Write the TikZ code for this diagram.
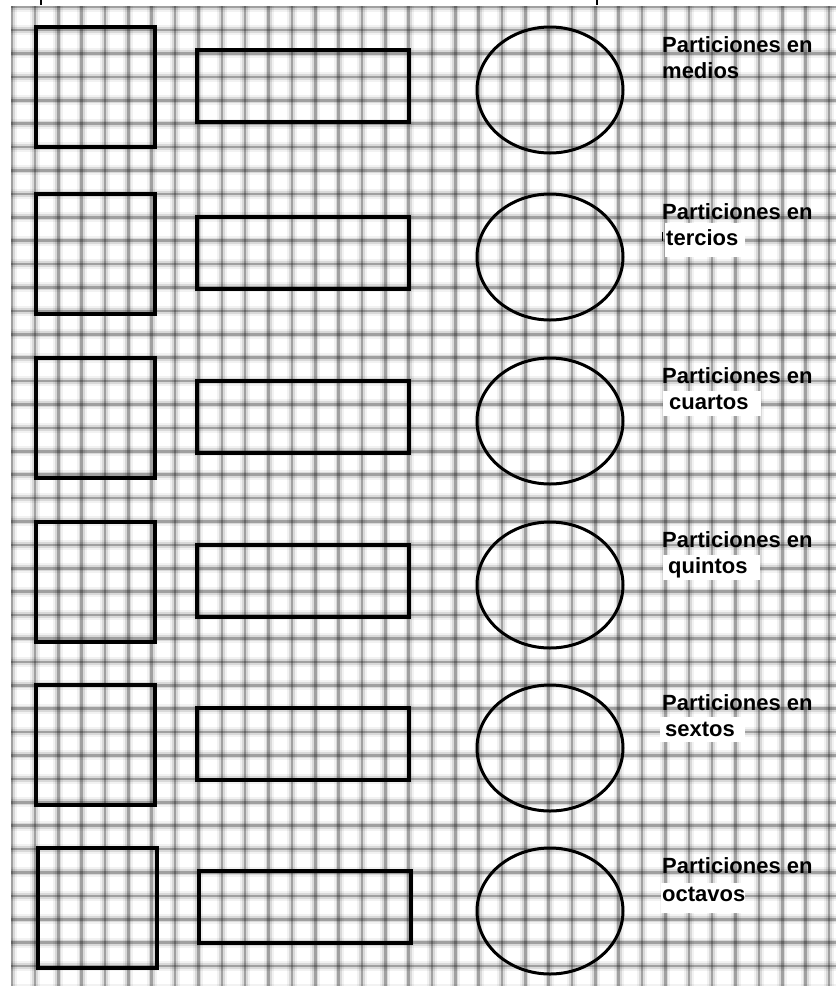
\documentclass[tikz,border=0pt]{standalone}
\usepackage{fontspec}
\setmainfont{Liberation Sans}
\usetikzlibrary{positioning}

\begin{document}
\begin{tikzpicture}[x=1pt,y=-1pt]
  \tikzstyle{gridhaze}=[line width=10pt,black,opacity=0.05]
  \tikzstyle{gridsoft}=[line width=6pt,black,opacity=0.10]
  \tikzstyle{gridline}=[line width=2.6pt,black,opacity=0.26]
  \tikzstyle{boxline}=[line width=4pt,black]
  \tikzstyle{oval}=[line width=3pt,black]
  \tikzstyle{rowtext}=[anchor=base west,inner sep=0pt,font=\fontsize{22}{26}\selectfont\bfseries]
  \tikzstyle{whitepatch}=[fill=white]

  % PAPER
  \useasboundingbox (0,0) rectangle (836,986);
  \fill[white] (0,0) rectangle (836,986);
  \begin{scope}
    \clip (11,6) rectangle (836,986);
    \foreach \k in {-1,...,35} {
      \draw[gridhaze] ({35+23.35*\k},0) -- ({35+23.35*\k},986);
      \draw[gridsoft] ({35+23.35*\k},0) -- ({35+23.35*\k},986);
      \draw[gridline] ({35+23.35*\k},0) -- ({35+23.35*\k},986);
    }
    \foreach \k in {-1,...,41} {
      \draw[gridhaze] (0,{30+23.4*\k}) -- (836,{30+23.4*\k});
      \draw[gridsoft] (0,{30+23.4*\k}) -- (836,{30+23.4*\k});
      \draw[gridline] (0,{30+23.4*\k}) -- (836,{30+23.4*\k});
    }
  \end{scope}
  \draw[line width=2pt] (41,0) -- (41,5);
  \draw[line width=2pt] (597,0) -- (597,5);

  % white patches behind the second lines
  \fill[whitepatch] (665,223) rectangle (745,257);
  \fill[whitepatch] (663,391) rectangle (761,416);
  \fill[whitepatch] (663,555) rectangle (760,580);
  \fill[whitepatch] (660,717) rectangle (745,742);
  \fill[whitepatch] (661,883) rectangle (745,913);
  \draw[line width=1.6pt] (662.5,232) -- (662.5,241);

  % ROWS
  \foreach \n/\t/\dx/\word/\wx/\gap in {1/26/0/medios/662/52,2/193/0/tercios/666/52,3/357/0/cuartos/669/52,4/521/0/quintos/668/52,5/684/0/sextos/665/52,6/847/2/octavos/662/54.5} {
    \draw[boxline] ({36+\dx},{\t+0.7}) rectangle ++(119,120.6);
    \draw[boxline] ({197+\dx},{\t+24}) rectangle ++(212,72);
    \draw[oval] (550,{\t+64}) ellipse [x radius=73pt, y radius=63pt];
    \node[rowtext] (head\n) at (662,{\t+26.5}) {Particiones en};
    \node[rowtext] (kind\n) at (\wx,{\t+\gap}) {\word};
  }
\end{tikzpicture}
\end{document}
